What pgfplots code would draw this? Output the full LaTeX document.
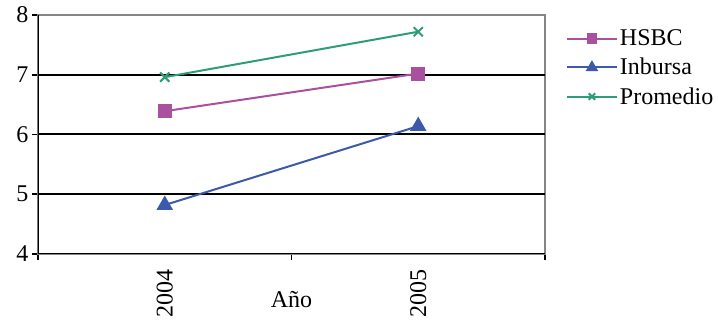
\documentclass[border=0pt]{standalone}
\usepackage{pgfplots}
\pgfplotsset{compat=1.18}
\usepackage{fontspec}
\setmainfont{Liberation Serif}
\newfontfamily\lserif{Liberation Serif}
\definecolor{hsbc}{HTML}{A9519F}
\definecolor{inb}{HTML}{3C59AC}
\definecolor{prom}{HTML}{2E9C78}
\definecolor{bord}{HTML}{858585}
\newcommand{\cf}{\lserif\fontsize{24}{28}\selectfont}
\begin{document}
\begin{tikzpicture}[x=1pt,y=1pt]
\useasboundingbox (0,0) rectangle (718,321);
\begin{axis}[
  at={(38pt,67pt)}, anchor=south west,
  width=507pt, height=239pt, scale only axis,
  xmin=0.5, xmax=2.5, ymin=4, ymax=8,
  /pgf/number format/assume math mode=true,
  font=\cf,
  ticklabel style={font=\cf},
  axis line style={draw=bord, line width=2pt},
  tick align=outside, xtick pos=bottom, ytick pos=left,
  major tick length=6pt,
  tick style={black, line width=1.8pt},
  ytick={4,5,6,7,8},
  extra y ticks={5,6,7}, extra y tick labels={},
  extra y tick style={grid=major, major tick length=0pt},
  grid style={black, line width=2pt},
  xtick={0.5,1.5,2.5}, xticklabels={},
  extra x ticks={1,2}, extra x tick labels={2004,2005},
  extra x tick style={major tick length=0pt, xticklabel style={rotate=90, anchor=east, xshift=-12pt}},
  xlabel={Año},
  xlabel style={at={(axis description cs:0.5,-0.192)}, anchor=center, font=\cf},
  legend style={at={(1.035,0.955)}, anchor=north west, draw=none, fill=none,
    font=\cf, row sep=7pt},
  legend cell align=left,
  legend image code/.code={\draw[line width=2pt, mark repeat=2,mark phase=2,mark options={scale=0.7}] plot coordinates {(0pt,0pt) (25pt,0pt) (50pt,0pt)};},
]
\addplot[hsbc, line width=2pt, mark=square*, mark size=6pt, mark options={solid}] coordinates {(1,6.39) (2,7.02)};
\addlegendentry{HSBC}
\addplot[inb, line width=2pt, mark=triangle*, mark size=7.5pt] coordinates {(1,4.82) (2,6.14)};
\addlegendentry{Inbursa}
\addplot[prom, line width=2pt, mark=x, mark size=6.5pt] coordinates {(1,6.96) (2,7.72)};
\addlegendentry{Promedio}
\draw[black, line width=2pt] (rel axis cs:0,1) -- (rel axis cs:0,0) -- (rel axis cs:1,0);
\end{axis}
\end{tikzpicture}
\end{document}
